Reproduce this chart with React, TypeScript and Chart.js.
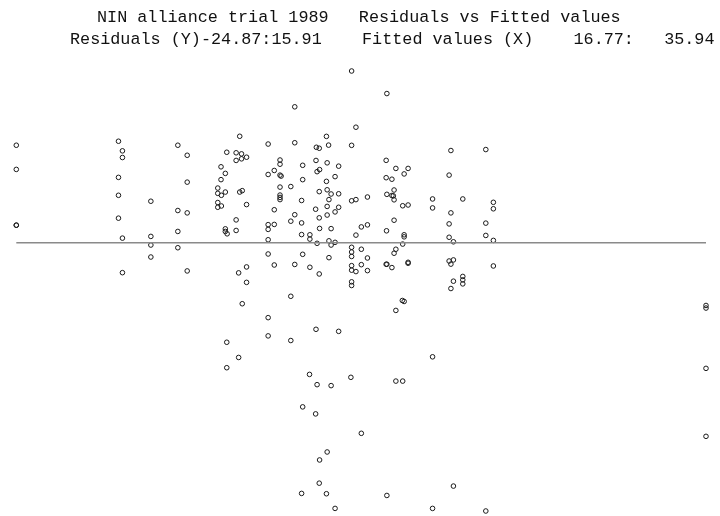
import React, { useEffect, useRef } from "react";
import { Chart, registerables } from "chart.js";

Chart.register(...registerables);

const titleLine1 = "NIN alliance trial 1989   Residuals vs Fitted values";
const titleLine2 = "Residuals (Y)-24.87:15.91    Fitted values (X)    16.77:   35.94";

const xRange = [16.77, 35.94];
const yRange = [-24.87, 15.91];

const fitted = [
  16.77, 16.77, 16.77, 16.77,
  19.61, 19.72, 19.72, 19.61, 19.61, 19.61, 19.72, 19.72,
  20.51, 20.51, 20.51, 20.51,
  21.26, 21.52, 21.52, 21.26, 21.52, 21.26, 21.26, 21.52,
  22.37, 22.37, 22.47, 22.58, 22.37, 22.37, 22.47, 22.46, 22.58, 22.46, 22.62, 22.58, 22.58, 22.63, 22.62, 22.62,
  22.98, 22.88, 23.03, 23.17, 22.88, 23.03, 22.98, 23.05, 23.17, 22.88, 22.88, 22.95, 23.17, 23.17, 23.05, 22.95,
  23.77, 23.77, 23.94, 23.77, 23.94, 23.77, 23.77, 23.94, 23.77, 23.94, 23.77, 23.77,
  24.10, 24.10, 24.10, 24.13, 24.10, 24.10, 24.10, 24.10,
  24.51, 24.51, 24.40, 24.51, 24.40, 24.51, 24.40, 24.40,
  24.73, 24.73, 24.70, 24.70, 24.70, 24.73, 24.73, 24.70,
  24.93, 24.93, 24.93, 24.92,
  25.11, 25.19, 25.10, 25.20, 25.13, 25.19, 25.09, 25.19, 25.20, 25.13, 25.19, 25.10, 25.13, 25.09, 25.20, 25.19,
  25.39, 25.45, 25.41, 25.39, 25.41, 25.52, 25.46, 25.41, 25.41, 25.52, 25.46, 25.52, 25.46, 25.52, 25.41, 25.39,
  25.73, 25.63, 25.73, 25.63, 25.73, 25.63, 25.73, 25.63,
  26.09, 26.21, 26.09, 26.21, 26.09, 26.21, 26.09, 26.09, 26.09, 26.09, 26.09, 26.21, 26.09, 26.09, 26.07,
  26.53, 26.36, 26.53, 26.36, 26.53, 26.36, 26.53, 26.36,
  27.07, 27.05, 27.32, 27.05, 27.21, 27.27, 27.07, 27.21, 27.25, 27.27, 27.27, 27.06, 27.32, 27.27, 27.05, 27.07, 27.21, 27.32, 27.32, 27.07,
  27.66, 27.55, 27.51, 27.66, 27.55, 27.55, 27.51, 27.66, 27.66, 27.50, 27.55, 27.51,
  28.34, 28.34, 28.34, 28.34,
  28.85, 28.80, 28.85, 28.80, 28.80, 28.92, 28.80, 28.92, 28.85, 28.92, 28.85, 28.92,
  29.18, 29.18, 29.18, 29.18,
  29.82, 30.03, 30.03, 29.82, 29.82, 30.03, 30.03, 29.82,
  35.94, 35.94, 35.94, 35.94,
];

const residuals = [
  9.03, 6.79, 1.62, 1.62,
  9.40, 8.51, 7.89, 6.05, 4.39, 2.27, 0.42, -2.78,
  3.84, 0.58, -0.22, -1.33,
  9.03, 8.10, 5.61, 2.98, 2.76, 1.04, -0.47, -2.62,
  5.06, 4.57, 4.39, 4.69, 3.72, 3.28, 3.40, 7.03, 6.42, 5.84, 8.38, 1.28, 1.04, 0.82, -9.23, -11.59,
  9.86, 8.33, 8.23, 7.92, 7.62, 7.77, 4.69, 4.82, 3.53, 2.11, 1.13, -2.80, -2.25, -3.68, -5.66, -10.64,
  9.14, 6.32, 6.69, 1.67, 1.69, 1.23, 0.27, 3.05, -1.05, -2.07, -6.95, -8.64,
  7.66, 7.27, 6.26, 6.17, 5.15, 4.41, 4.19, 3.99,
  12.59, 9.26, 5.20, 2.59, 1.99, -2.02, -4.97, -9.07,
  7.17, 5.84, 3.91, 1.83, 0.75, -1.08, -15.22, -23.24,
  0.73, 0.33, -2.28, -12.21,
  8.84, 8.75, 7.62, 6.77, 6.58, 4.73, 3.10, 2.30, 1.32, -0.06, -2.90, -8.03, -13.16, -15.87, -20.14, -22.29,
  9.85, 9.04, 7.40, 5.68, 4.90, 4.51, 3.99, 3.36, 2.56, 1.30, 0.17, -0.22, -1.39, -13.25, -19.40, -23.27,
  7.09, 6.12, 4.53, 2.85, 3.28, 0.03, -8.22, -24.63,
  15.91, 10.70, 9.02, 3.99, 3.88, 0.70, -0.43, -0.87, -1.28, -2.13, -2.55, -2.68, -3.63, -3.97, -12.48,
  4.23, 1.46, 1.65, -0.61, -1.42, -2.04, -2.59, -17.67,
  13.82, 7.63, 6.88, 6.02, 5.88, 4.88, 4.48, 4.37, 4.34, 3.97, 2.08, 1.10, -0.61, -0.98, -2.00, -2.00, -2.31, -6.28, -12.83, -23.43,
  6.88, 6.37, 3.42, 3.49, 0.73, 0.54, -0.13, -1.82, -1.91, -5.36, -5.45, -12.83,
  4.05, 3.22, -10.58, -24.63,
  8.54, 6.26, 2.76, 1.74, 0.50, 0.08, -1.70, -1.60, -1.99, -3.57, -4.25, -22.56,
  4.05, -3.13, -3.45, -3.82,
  8.63, 3.74, 3.14, 1.81, 0.67, 0.21, -2.16, -24.87,
  -5.82, -6.06, -11.65, -17.95,
];

const titlePlugin = {
  id: "monoTitle",
  afterDraw(chart: any) {
    const ctx = chart.ctx;
    ctx.save();
    ctx.fillStyle = "#111";
    ctx.font = '16.8px "Liberation Mono", "Courier New", monospace';
    ctx.textBaseline = "alphabetic";
    ctx.textAlign = "left";
    ctx.fillText(titleLine1, 97, 22);
    ctx.fillText(titleLine2, 70, 44);
    ctx.restore();
  },
};

export default function App() {
  const ref = useRef<HTMLCanvasElement | null>(null);
  useEffect(() => {
    if (!ref.current) return;
    const points = fitted.map((f, i) => ({ x: f, y: residuals[i] }));
    const chart = new Chart(ref.current, {
      type: "scatter",
      data: {
        datasets: [
          {
            type: "line",
            data: [
              { x: xRange[0], y: 0 },
              { x: xRange[1], y: 0 },
            ],
            borderColor: "#8a8a8a",
            borderWidth: 1.5,
            pointRadius: 0,
            fill: false,
            clip: false,
          } as any,
          {
            data: points,
            pointStyle: "circle",
            pointRadius: 2.3,
            pointBorderWidth: 1,
            borderColor: "#1a1a1a",
            backgroundColor: "rgba(0,0,0,0)",
            clip: false,
          } as any,
        ],
      },
      options: {
        responsive: true,
        maintainAspectRatio: false,
        animation: false,
        layout: { padding: { left: 16.3, right: 14, top: 71, bottom: 2.7 } },
        scales: {
          x: { type: "linear", min: xRange[0], max: xRange[1], display: false },
          y: { type: "linear", min: yRange[0], max: yRange[1], display: false },
        },
        plugins: {
          legend: { display: false },
          tooltip: { enabled: false },
          title: { display: false },
        },
      },
      plugins: [titlePlugin],
    });
    return () => chart.destroy();
  }, []);
  return (
    <div style={{ position: "fixed", left: 0, top: 0, width: 720, height: 516, background: "#fff" }}>
      <canvas ref={ref} />
    </div>
  );
}
